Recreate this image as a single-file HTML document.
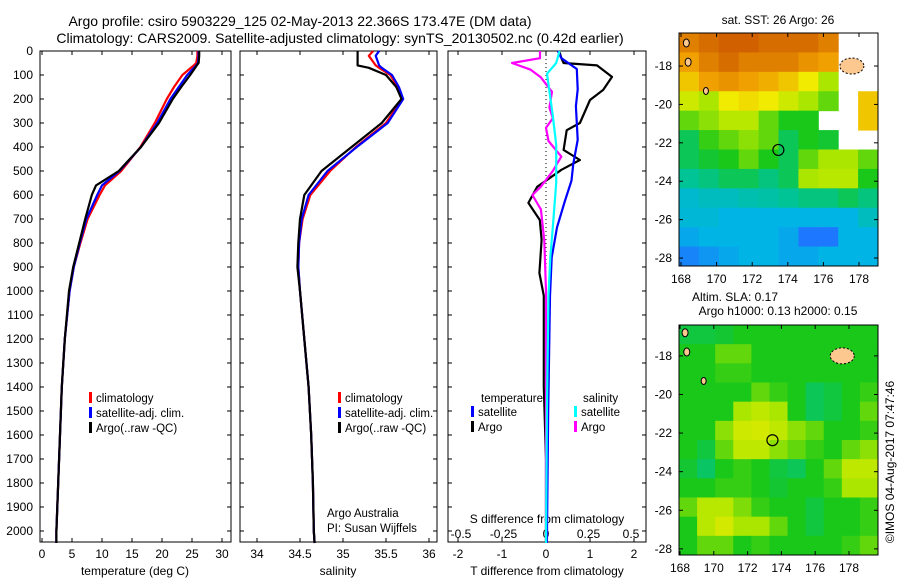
<!DOCTYPE html>
<html><head><meta charset="utf-8"><style>
html,body{margin:0;padding:0;background:#fff;}
svg{display:block;font-family:"Liberation Sans",sans-serif;}
</style></head><body>
<svg id="c" width="900" height="580" viewBox="0 0 900 580" xmlns="http://www.w3.org/2000/svg">
<text x="300" y="26" font-size="14" text-anchor="middle">Argo profile: csiro 5903229_125 02-May-2013 22.366S 173.47E (DM data)</text>
<text x="340" y="43" font-size="14" text-anchor="middle">Climatology: CARS2009. Satellite-adjusted climatology: synTS_20130502.nc (0.42d earlier)</text>
<g id="g"></g>
</svg>
<script>
// ---- profile data ----
const depthT = [0,20,50,60,100,150,200,300,400,500,560,600,700,800,900,1000,1200,1400,1600,1800,2000,2050];
const tempArgo = [26.2,26.2,26.1,25.8,24.7,23.2,21.8,19.5,16.5,12.8,9.0,8.3,7.2,6.2,5.2,4.5,3.8,3.3,3.0,2.7,2.4,2.4];
const tempClim = [25.9,25.9,25.7,25.3,23.4,22.0,20.8,18.8,16.4,13.2,10.5,9.6,7.6,6.4,5.3,4.6,3.8,3.3,3.0,2.7,2.4,2.4];
const tempSat  = [26.1,26.1,26.0,25.7,24.2,22.8,21.4,19.2,16.5,12.9,10.0,9.2,7.4,6.3,5.3,4.6,3.8,3.3,3.0,2.7,2.4,2.4];
const depthS = [0,20,60,70,100,150,200,300,400,500,600,700,800,900,1000,1200,1400,1600,1800,2000,2050];
const salArgo = [35.17,35.17,35.17,35.3,35.5,35.62,35.68,35.45,35.1,34.75,34.55,34.5,34.48,34.47,34.5,34.55,34.6,34.63,34.65,34.66,34.67];
const salClim = [35.35,35.3,35.38,35.42,35.55,35.64,35.69,35.5,35.15,34.85,34.62,34.53,34.49,34.48,34.5,34.55,34.6,34.63,34.65,34.66,34.67];
const salSat  = [35.42,35.38,35.42,35.45,35.57,35.65,35.7,35.52,35.16,34.82,34.6,34.52,34.49,34.48,34.5,34.55,34.6,34.63,34.65,34.66,34.67];
// ---- difference data ----
const dDepthTA = [0,30,50,60,108,162,204,300,330,412,454,495,566,633,704,787,925,1020,1400,1700,2050];
const dTempArgo = [0.3,0.35,0.4,1.16,1.5,1.3,1.0,0.77,0.47,0.4,0.77,0.35,-0.2,-0.4,-0.14,-0.1,-0.15,-0.05,-0.05,0.0,0.0];
const dDepthTS = [0,30,75,160,230,370,470,540,625,735,860,1020,1500,2050];
const dTempSat = [0.27,0.35,0.7,0.72,0.68,0.72,0.62,0.58,0.43,0.25,0.13,0.09,0.05,0.02];
const dDepthSS = [0,50,95,270,390,550,735,860,1020,1500,2050];
const dSalSat = [0.08,0.06,0.006,0.04,0.06,0.06,0.04,0.025,0.015,0.005,0.0];
const dDepthSA = [0,30,50,78,110,170,235,280,320,375,440,500,565,600,660,790,1000,2050];
const dSalArgo = [-0.035,-0.035,-0.2,-0.09,-0.03,0.035,0.02,0.04,0.0,0.015,0.09,0.04,-0.03,-0.08,-0.03,-0.01,0.0,0.0];
// ---- map grids (normalized colour index, null = no data) ----
const sstGrid = [
[.85,.88,.9,.9,.88,.88,.88,.85,null,null],
[.8,.85,.88,.85,.85,.85,.82,.8,null,null],
[.75,.8,.82,.8,.78,.75,.7,.6,null,null],
[.65,.6,.7,.72,.7,.65,.6,.55,null,.75],
[.55,.58,.62,.62,.55,.5,.5,null,null,.75],
[.45,.52,.55,.58,.55,.45,.5,.48,null,null],
[.45,.48,.5,.55,.5,.45,.55,.6,.6,.55],
[.4,.42,.45,.45,.42,.45,.6,.62,.62,.5],
[.33,.35,.35,.37,.38,.4,.42,.42,.45,.42],
[.32,.32,.3,.3,.3,.3,.3,.3,.3,.35],
[.28,.3,.3,.3,.3,.28,.2,.2,.3,.3],
[.22,.25,.28,.3,.3,.28,.28,.3,.3,.3]];
const slaGrid = [
[.47,.47,.48,.5,.5,.5,.5,.5,.5,.5,.5],
[.5,.5,.55,.55,.5,.5,.5,.5,.5,.5,.5],
[.5,.5,.52,.52,.5,.5,.5,.5,.5,.5,.5],
[.5,.5,.5,.5,.55,.52,.5,.45,.47,.5,.52],
[.5,.5,.5,.6,.63,.6,.5,.45,.47,.5,.55],
[.5,.5,.58,.65,.66,.63,.58,.55,.5,.5,.52],
[.5,.47,.55,.63,.63,.58,.55,.52,.5,.55,.58],
[.48,.44,.5,.52,.5,.47,.45,.5,.55,.63,.63],
[.5,.5,.52,.52,.5,.48,.5,.5,.52,.6,.6],
[.55,.62,.62,.57,.52,.5,.5,.47,.5,.5,.52],
[.5,.62,.66,.6,.6,.55,.5,.47,.5,.5,.52],
[.5,.55,.55,.5,.52,.5,.5,.5,.5,.52,.55]];
const depthTicks = [0,100,200,300,400,500,600,700,800,900,1000,1100,1200,1300,1400,1500,1600,1700,1800,1900,2000];
const tempTicks = [0,5,10,15,20,25,30];
const salTicks = [34,34.5,35,35.5,36];
const salTickLabels = ["34","34.5","35","35.5","36"];
const tdTicks = [-2,-1,0,1,2];
const sdTicks = [-0.5,-0.25,0,0.25,0.5];
const sdTickLabels = ["-0.5","-0.25","0","0.25","0.5"];
const lonTicks = [168,170,172,174,176,178];
const latTicks1 = [-18,-20,-22,-24,-26,-28];
const latTicks2 = [-18,-20,-22,-24,-26,-28];

const NS="http://www.w3.org/2000/svg";
const G=document.getElementById('g');
function mk(tag,attrs,parent){const e=document.createElementNS(NS,tag);for(const k in attrs)e.setAttribute(k,attrs[k]);(parent||G).appendChild(e);return e;}
function txt(x,y,s,anchor,size,parent){const t=mk('text',{x:x,y:y,'font-size':size||12,'text-anchor':anchor||'middle'},parent);t.textContent=s;return t;}

const TOP=51, BOT=542;
const yD=d=>TOP+d*0.24;
const panels=[
 {x0:40,x1:231,sx:v=>42+v*6},
 {x0:240,x1:437,sx:v=>257+(v-34)*86},
 {x0:448,x1:646,sx:v=>546+v*44}];
const sxS=v=>546+v*170;

panels.forEach((p,i)=>{
 const r=mk('rect',{x:p.x0,y:TOP,width:p.x1-p.x0,height:BOT-TOP,fill:'none',stroke:'#000','stroke-width':1});
 
 
 depthTicks.forEach(d=>{mk('line',{x1:p.x0,x2:p.x0+4,y1:yD(d),y2:yD(d),stroke:'#000'});mk('line',{x1:p.x1,x2:p.x1-4,y1:yD(d),y2:yD(d),stroke:'#000'});});
});
depthTicks.forEach(d=>{const t=txt(33,yD(d)+4,String(d),'end',12);
 
 });
function xticks(p,ticks,labels,ly){ticks.forEach((v,i)=>{const x=p.sx(v);
 mk('line',{x1:x,x2:x,y1:BOT,y2:BOT-4,stroke:'#000'});mk('line',{x1:x,x2:x,y1:TOP,y2:TOP+4,stroke:'#000'});
 const t=txt(x,ly,labels[i],'middle',12);
 
 });}
xticks(panels[0],tempTicks,tempTicks.map(String),558);
xticks(panels[1],salTicks,salTickLabels,558);
xticks(panels[2],tdTicks,tdTicks.map(String),558);
sdTicks.forEach((v,i)=>{const t=txt(sxS(v),538,sdTickLabels[i],'middle',12);
 
 });
let t;
t=txt(135,575,'temperature (deg C)');
t=txt(338,575,'salinity');
t=txt(547,575,'T difference from climatology');
t=txt(547,523,'S difference from climatology');
// zero line
const z=mk('line',{x1:546,x2:546,y1:TOP,y2:BOT,stroke:'#000','stroke-dasharray':'1,3'});



function line(depths,vals,sx,color,name){
 const pts=depths.map((d,i)=>sx(vals[i]).toFixed(1)+','+yD(d).toFixed(1)).join(' ');
 const e=mk('polyline',{points:pts,fill:'none',stroke:color,'stroke-width':2.2,'stroke-linejoin':'round'});
 
 }
line(depthT,tempClim,panels[0].sx,'#f00','temp-climatology-line');
line(depthT,tempSat,panels[0].sx,'#00f','temp-satellite-line');
line(depthT,tempArgo,panels[0].sx,'#000','temp-argo-line');
line(depthS,salClim,panels[1].sx,'#f00','sal-climatology-line');
line(depthS,salSat,panels[1].sx,'#00f','sal-satellite-line');
line(depthS,salArgo,panels[1].sx,'#000','sal-argo-line');
line(dDepthTA,dTempArgo,panels[2].sx,'#000','tdiff-argo-line');
line(dDepthTS,dTempSat,panels[2].sx,'#00f','tdiff-satellite-line');
line(dDepthSA,dSalArgo,sxS,'#f0f','sdiff-argo-line');
line(dDepthSS,dSalSat,sxS,'#0ff','sdiff-satellite-line');

function leg(x,y,color,s,name){
 const g=mk('g',{});
 
 
 mk('rect',{x:x,y:y-10,width:3,height:11,fill:color},g);txt(x+7,y,s,'start',11.5,g);}
leg(89,402,'#f00','climatology','legend-climatology');
leg(89,417,'#00f','satellite-adj. clim.','legend-satellite');
leg(89,432,'#000','Argo(..raw -QC)','legend-argo');
leg(338,402,'#f00','climatology','legend2-climatology');
leg(338,417,'#00f','satellite-adj. clim.','legend2-satellite');
leg(338,432,'#000','Argo(..raw -QC)','legend2-argo');
t=txt(481,402,'temperature','start',11.5);
t=txt(583,402,'salinity','start',11.5);
leg(471,416,'#00f','satellite','legend-tdiff-satellite');
leg(471,431,'#000','Argo','legend-tdiff-argo');
leg(574,416,'#0ff','satellite','legend-sdiff-satellite');
leg(574,431,'#f0f','Argo','legend-sdiff-argo');
t=txt(327,517,'Argo Australia','start',11.5);
t=txt(327,532,'PI: Susan Wijffels','start',11.5);

// ---- maps ----
const stops=[[0.2,[30,120,255]],[0.3,[0,180,230]],[0.4,[0,195,150]],[0.5,[25,200,25]],[0.6,[170,230,0]],[0.7,[240,235,0]],[0.8,[240,160,0]],[0.9,[208,96,0]]];
function col(v){if(v<=stops[0][0])return 'rgb('+stops[0][1]+')';
 for(let i=1;i<stops.length;i++){if(v<=stops[i][0]){const a=stops[i-1],b=stops[i],f=(v-a[0])/(b[0]-a[0]);
  return 'rgb('+a[1].map((c,j)=>Math.round(c+(b[1][j]-c)*f)).join(',')+')';}}
 return 'rgb('+stops[stops.length-1][1]+')';}
function map(grid,x0,y0,w,h,lat0,latScale,lonX0,lonScale,latTicks,name){
 const g=mk('g',{});
 
 
 const nr=grid.length,nc=grid[0].length,cw=w/nc,ch=h/nr;
 grid.forEach((row,r)=>row.forEach((v,c)=>{if(v===null)return;
  mk('rect',{x:x0+c*cw,y:y0+r*ch,width:cw+0.5,height:ch+0.5,fill:col(v)},g);}));
 const lon=v=>lonX0+(v-168)*lonScale, lat=v=>y0+(lat0-v)*latScale;
 // land
 mk('ellipse',{cx:lon(177.6),cy:lat(-18),rx:12,ry:8,fill:'#fcc890',stroke:'#000','stroke-dasharray':'2,2'},g);
 mk('ellipse',{cx:lon(168.3),cy:lat(-16.8),rx:3,ry:4,fill:'#fcc890',stroke:'#000'},g);
 mk('ellipse',{cx:lon(168.4),cy:lat(-17.8),rx:3,ry:4,fill:'#fcc890',stroke:'#000'},g);
 mk('ellipse',{cx:lon(169.4),cy:lat(-19.3),rx:2.5,ry:3.5,fill:'#fcc890',stroke:'#000'},g);
 const m=mk('circle',{cx:lon(173.47),cy:lat(-22.37),r:5.5,fill:'none',stroke:'#000','stroke-width':1.2},g);
 
 
 mk('rect',{x:x0,y:y0,width:w,height:h,fill:'none',stroke:'#000'},g);
 lonTicks.forEach(v=>{mk('line',{x1:lon(v),x2:lon(v),y1:y0+h,y2:y0+h-4,stroke:'#000'},g);mk('line',{x1:lon(v),x2:lon(v),y1:y0,y2:y0+4,stroke:'#000'},g);
  txt(lon(v),y0+h+17,String(v),'middle',12,g);});
 latTicks.forEach(v=>{mk('line',{x1:x0,x2:x0+4,y1:lat(v),y2:lat(v),stroke:'#000'},g);mk('line',{x1:x0+w,x2:x0+w-4,y1:lat(v),y2:lat(v),stroke:'#000'},g);
  txt(x0-7,lat(v)+4,String(v),'end',12,g);});
}
map(sstGrid,679,33,199,233,-16.28,19.2,681,17.8,latTicks1,'sst-map');
map(slaGrid,679,325,199,230,-16.4,19.3,680,16.9,latTicks2,'sla-map');
t=txt(778,24,'sat. SST: 26 Argo: 26');
t=txt(735,301,'Altim. SLA: 0.17');
t=txt(778,315,'Argo h1000: 0.13 h2000: 0.15');
t=txt(0,0,'©IMOS 04-Aug-2017 07:47:46','middle',12);t.setAttribute('transform','translate(894,462) rotate(-90)');

</script>
</body></html>
